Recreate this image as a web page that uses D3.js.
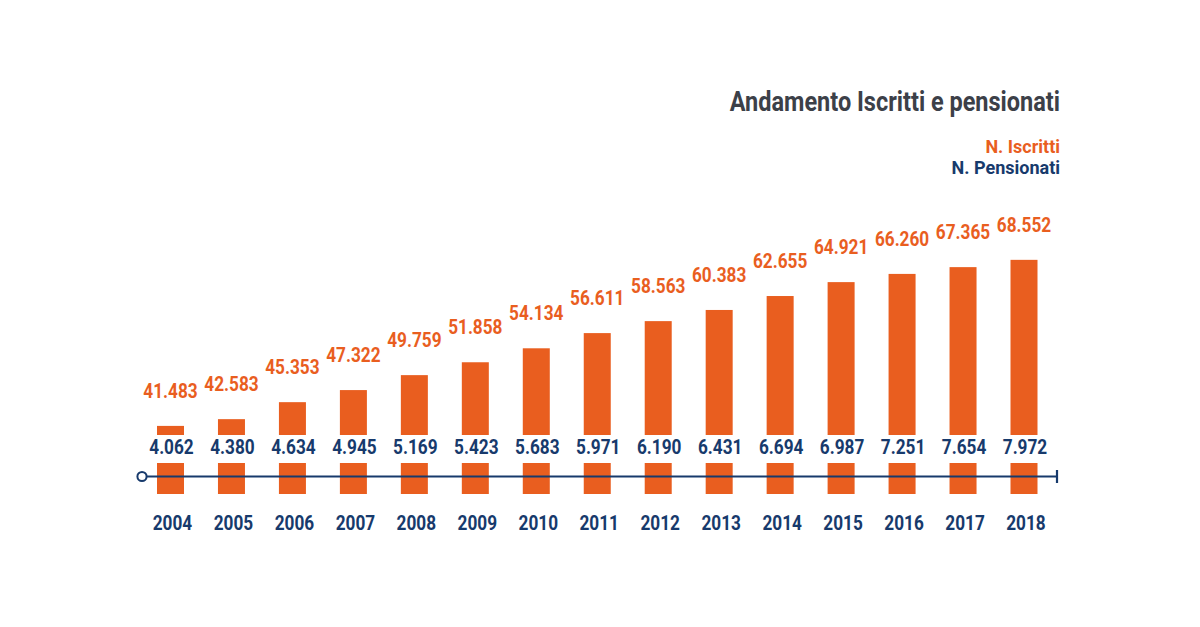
<!DOCTYPE html>
<html><head><meta charset="utf-8">
<script src="https://cdn.jsdelivr.net/npm/d3@7"></script>
<style>body{margin:0;background:#fff}svg{display:block}text{font-family:Roboto,sans-serif;font-weight:700}</style>
</head><body>
<svg id="c" width="1200" height="627"></svg>
<script>
const years = ["2004","2005","2006","2007","2008","2009","2010","2011","2012","2013","2014","2015","2016","2017","2018"];
const iscritti = [41483,42583,45353,47322,49759,51858,54134,56611,58563,60383,62655,64921,66260,67365,68552];
const pensionati = [4062,4380,4634,4945,5169,5423,5683,5971,6190,6431,6694,6987,7251,7654,7972];
const title = "Andamento Iscritti e pensionati";
const legendLabels = ["N. Iscritti","N. Pensionati"];

const ORANGE = "#E95E1F", NAVY = "#173A6C", GREY = "#3C4048";
const fmt = v => d3.format(",")(v).replace(/,/g, ".");
const svg = d3.select("#c");
const squeeze = (sel, f) => sel.each(function(){ const w = this.getComputedTextLength(); d3.select(this).attr("textLength", w*f).attr("lengthAdjust","spacingAndGlyphs"); });

const x = d3.scalePoint().domain(years).range([170.5, 1024]);
const y = d3.scaleLinear().domain([40000, 69000]).range([435, 257.1]);
const bw = 27;
const cx = d => x(d);

// upper bars
svg.append("g").selectAll("rect").data(years).join("rect")
  .attr("x", d => cx(d) - bw/2).attr("width", bw)
  .attr("y", (d,i) => y(iscritti[i])).attr("height", (d,i) => y(40000) - y(iscritti[i]))
  .attr("fill", ORANGE);

// iscritti labels
svg.append("g").selectAll("text").data(years).join("text")
  .attr("x", d => cx(d)).attr("y", (d,i) => y(iscritti[i]) - 28)
  .attr("text-anchor","middle").attr("font-size",20).attr("fill",ORANGE)
  .text((d,i) => fmt(iscritti[i])).call(squeeze, 0.86);

// pensionati labels
svg.append("g").selectAll("text").data(years).join("text")
  .attr("x", d => cx(d) + 1).attr("y", 454)
  .attr("text-anchor","middle").attr("font-size",20).attr("fill",NAVY)
  .text((d,i) => fmt(pensionati[i])).call(squeeze, 0.86);

// lower bar segments
svg.append("g").selectAll("rect").data(years).join("rect")
  .attr("x", d => cx(d) - bw/2).attr("width", bw)
  .attr("y", 463).attr("height", 31).attr("fill", ORANGE);

// timeline axis
svg.append("line").attr("x1",146.5).attr("x2",1057).attr("y1",476.5).attr("y2",476.5).attr("stroke",NAVY).attr("stroke-width",2.2);
svg.append("line").attr("x1",1057).attr("x2",1057).attr("y1",470).attr("y2",483).attr("stroke",NAVY).attr("stroke-width",2.2);
svg.append("circle").attr("cx",142).attr("cy",476.5).attr("r",4.6).attr("fill","#fff").attr("stroke",NAVY).attr("stroke-width",2);

// year labels
svg.append("g").selectAll("text").data(years).join("text")
  .attr("x", d => cx(d) + 2).attr("y", 530)
  .attr("text-anchor","middle").attr("font-size",20).attr("fill",NAVY)
  .text(d => d).call(squeeze, 0.86);

// title & legend
svg.append("text").attr("x",1060).attr("y",111).attr("text-anchor","end").attr("font-size",27).attr("fill",GREY).text(title).call(squeeze,0.87);
svg.append("text").attr("x",1060).attr("y",153).attr("text-anchor","end").attr("font-size",18).attr("fill",ORANGE).text(legendLabels[0]);
svg.append("text").attr("x",1060).attr("y",174).attr("text-anchor","end").attr("font-size",18).attr("fill",NAVY).text(legendLabels[1]);
</script>
</body></html>
